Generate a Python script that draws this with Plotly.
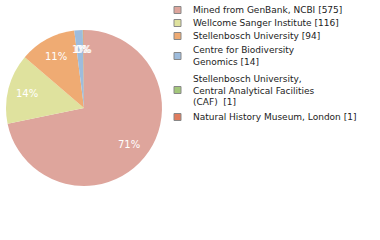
import math
import plotly.graph_objects as go

labels = ["Mined from GenBank, NCBI [575]", "Wellcome Sanger Institute [116]",
          "Stellenbosch University [94]", "Centre for Biodiversity<br>Genomics [14]",
          "Stellenbosch University,<br>Central Analytical Facilities<br>(CAF)  [1]",
          "Natural History Museum, London [1]"]
values = [575, 116, 94, 14, 1, 1]
colors = ["#dea59c", "#dfe29e", "#efab73", "#9dbcdd", "#a3c77a", "#e07c5e"]

W, H = 380, 240
CX, CY, R = 84, 108, 78
total = sum(values)
pct = [f"{int(v * 100 // total)}%" for v in values]

fig = go.Figure(go.Pie(
    values=values, labels=labels, textinfo="none",
    sort=False, direction="clockwise", rotation=0,
    marker=dict(colors=colors, line=dict(width=0)),
    domain=dict(x=[(CX - R) / W, (CX + R) / W], y=[1 - (CY + R) / H, 1 - (CY - R) / H]),
    showlegend=False, hoverinfo="skip",
))

shapes, annots = [], []
# percentage labels at 0.75 R along each slice's mid-angle
cum = 0
for v, p in zip(values, pct):
    mid = (cum + v / 2) / total
    cum += v
    th = 2 * math.pi * mid
    px = CX + 0.75 * R * math.sin(th)
    py = CY - 0.75 * R * math.cos(th)
    annots.append(dict(text=p, xref="paper", yref="paper", x=px / W, y=1 - py / H,
                       xanchor="center", yanchor="middle", showarrow=False,
                       font=dict(family="DejaVu Sans", size=10, color="white")))

# legend drawn with shapes + annotations
row_y = [10, 23, 36, 56, 90, 117]
for lab, c, yc in zip(labels, colors, row_y):
    shapes.append(dict(type="rect", xref="paper", yref="paper",
                       x0=174 / W, x1=181 / W, y0=1 - (yc + 3.5) / H, y1=1 - (yc - 3.5) / H,
                       fillcolor=c, line=dict(color="#888888", width=1)))
    annots.append(dict(text=lab, xref="paper", yref="paper", x=191 / W, y=1 - yc / H,
                       xanchor="left", yanchor="middle", showarrow=False, align="left",
                       font=dict(family="DejaVu Sans", size=9, color="#222222")))

fig.update_layout(width=W, height=H, margin=dict(l=0, r=0, t=0, b=0),
                  paper_bgcolor="white", plot_bgcolor="white",
                  shapes=shapes, annotations=annots)
fig.write_html("out.html")
